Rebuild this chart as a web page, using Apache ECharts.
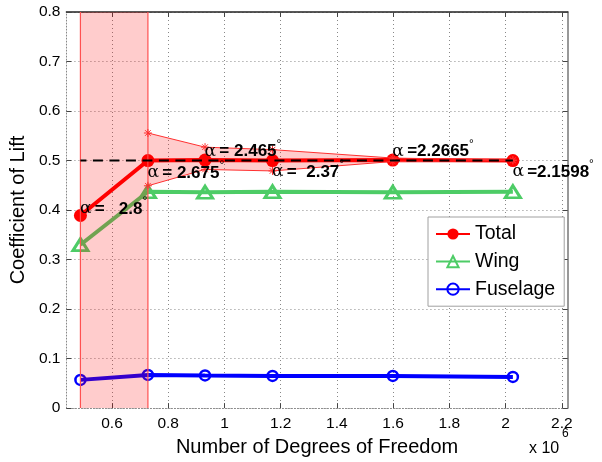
<!DOCTYPE html>
<html><head><meta charset="utf-8">
<script src="https://cdn.jsdelivr.net/npm/echarts@6/dist/echarts.min.js"></script>
<style>html,body{margin:0;padding:0;background:#fff}#c{width:602px;height:462px}</style>
</head><body><div id="c"></div>
<script>
// ---- data (x in units of 10^6 degrees of freedom) ----
const dof      = [0.4877, 0.7278, 0.931, 1.171, 1.599, 2.026];
const total    = [0.389, 0.500, 0.501, 0.500, 0.501, 0.500];
const wing     = [0.330, 0.437, 0.436, 0.437, 0.436, 0.437];
const fuselage = [0.057, 0.067, 0.066, 0.065, 0.065, 0.063];
const bandX     = [0.7278, 0.931, 1.171, 1.599, 2.026];
const bandUpper = [0.5556, 0.527, 0.522, 0.505, 0.501];
const bandLower = [0.449, 0.482, 0.479, 0.498, 0.500];
const shadeFrom = 0.4877, shadeTo = 0.7278;
const targetCL = 0.5;
const alphaText = ['=   2.8', '= 2.675', '= 2.465', '=  2.37', '=2.2665', '=2.1598'];
const xTicks = [0.6, 0.8, 1, 1.2, 1.4, 1.6, 1.8, 2, 2.2];
const xMin = 0.438, xMax = 2.221, yMin = 0, yMax = 0.8, yStep = 0.1;

// ---- layout / style ----
const labelDy = [-6, 13, -8, 12, -8, 12];
const FONT = 'Liberation Sans, Arial, Helvetica, sans-serif';
const chart = echarts.init(document.getElementById('c'), null, {renderer: 'canvas'});

function star(c, r) {
  const s = r * 0.7071, st = {stroke: '#ff3030', lineWidth: 1};
  return [
    {type: 'line', shape: {x1: c[0]-r, y1: c[1], x2: c[0]+r, y2: c[1]}, style: st},
    {type: 'line', shape: {x1: c[0], y1: c[1]-r, x2: c[0], y2: c[1]+r}, style: st},
    {type: 'line', shape: {x1: c[0]-s, y1: c[1]-s, x2: c[0]+s, y2: c[1]+s}, style: st},
    {type: 'line', shape: {x1: c[0]-s, y1: c[1]+s, x2: c[0]+s, y2: c[1]-s}, style: st}
  ];
}

const option = {
  backgroundColor: '#fff',
  animation: false,
  grid: {left: 65, right: 34.3, top: 12, bottom: 53, containLabel: false},
  legend: {
    data: ['Total', 'Wing', 'Fuselage'],
    orient: 'vertical', left: 428, top: 217,
    padding: [7, 9, 7, 7], itemGap: 7.6, itemWidth: 34, itemHeight: 14,
    backgroundColor: '#fff', borderColor: '#a0a0a0', borderWidth: 1, borderRadius: 0,
    textStyle: {fontSize: 19.5, fontFamily: FONT, color: '#000'}
  },
  xAxis: [{
    type: 'value', min: xMin, max: xMax,
    name: 'Number of Degrees of Freedom', nameLocation: 'middle', nameGap: 28,
    nameTextStyle: {fontSize: 20, fontFamily: FONT, color: '#000'},
    axisLine: {show: true, lineStyle: {color: '#888', type: [1, 2], width: 1}},
    axisTick: {show: true, inside: true, length: 5, customValues: xTicks, lineStyle: {color: '#444'}},
    axisLabel: {customValues: xTicks, fontSize: 15.5, fontFamily: FONT, color: '#000', margin: 8,
      formatter: v => String(+v.toFixed(1))},
    splitLine: {show: true, lineStyle: {color: '#888', type: [1, 3], width: 1}}
  }, {
    type: 'value', min: xMin, max: xMax, position: 'top',
    axisLine: {show: true, onZero: false, lineStyle: {color: '#222', width: 1.5}},
    axisTick: {show: true, inside: true, length: 5, customValues: xTicks, lineStyle: {color: '#444'}},
    axisLabel: {show: false, customValues: xTicks},
    splitLine: {show: false}
  }],
  yAxis: [{
    type: 'value', min: yMin, max: yMax, interval: yStep,
    name: 'Coefficient of Lift', nameLocation: 'middle', nameGap: 28,
    nameTextStyle: {fontSize: 20, fontFamily: FONT, color: '#000'},
    axisLine: {show: true, lineStyle: {color: '#888', type: [1, 2], width: 1}},
    axisTick: {show: true, inside: true, length: 5, lineStyle: {color: '#444'}},
    axisLabel: {fontSize: 15.5, fontFamily: FONT, color: '#000', margin: 6,
      formatter: v => String(+v.toFixed(1))},
    splitLine: {show: true, lineStyle: {color: '#888', type: [1, 3], width: 1}}
  }, {
    type: 'value', min: yMin, max: yMax, interval: yStep, position: 'right',
    axisLine: {show: true, onZero: false, lineStyle: {color: '#777', width: 1.5}},
    axisTick: {show: true, inside: true, length: 5, lineStyle: {color: '#444'}},
    axisLabel: {show: false}, splitLine: {show: false}
  }],
  series: [
    {
      name: 'Fuselage', type: 'line', z: 2,
      data: dof.map((x, i) => [x, fuselage[i]]),
      lineStyle: {color: '#0000ff', width: 4},
      symbol: 'circle', symbolSize: 10,
      itemStyle: {color: 'rgba(255,255,255,0)', borderColor: '#0000ff', borderWidth: 2.5}
    },
    {
      name: 'Wing', type: 'line', z: 2,
      data: dof.map((x, i) => [x, wing[i]]),
      lineStyle: {color: '#4dcc66', width: 4},
      symbol: 'triangle', symbolSize: [15, 12],
      itemStyle: {color: 'rgba(255,255,255,0)', borderColor: '#4dcc66', borderWidth: 3}
    },
    {
      name: 'Total', type: 'line', z: 2,
      data: dof.map((x, i) => [x, total[i]]),
      lineStyle: {color: '#ff0000', width: 4},
      symbol: 'circle', symbolSize: 13,
      itemStyle: {color: '#ff0000'}
    },
    {
      name: 'band', type: 'custom', z: 3, silent: true,
      data: [[shadeFrom, yMax]],
      renderItem: (params, api) => {
        const tl = api.coord([shadeFrom, yMax]), br = api.coord([shadeTo, yMin]);
        const ch = [];
        ch.push({type: 'rect', shape: {x: tl[0], y: tl[1], width: br[0]-tl[0], height: br[1]-tl[1]},
          style: {fill: 'rgba(255,0,0,0.2)'}});
        ch.push({type: 'line', shape: {x1: tl[0], y1: tl[1], x2: tl[0], y2: br[1]}, style: {stroke: '#ff5050', lineWidth: 1.2}});
        ch.push({type: 'line', shape: {x1: br[0], y1: tl[1], x2: br[0], y2: br[1]}, style: {stroke: '#ff5050', lineWidth: 1.2}});
        const up = bandX.map((x, i) => api.coord([x, bandUpper[i]]));
        const lo = bandX.map((x, i) => api.coord([x, bandLower[i]]));
        ch.push({type: 'polygon', shape: {points: up.concat(lo.slice().reverse())},
          style: {fill: 'rgba(255,0,0,0.2)'}});
        ch.push({type: 'polyline', shape: {points: up}, style: {stroke: '#ff3030', lineWidth: 1, fill: null}});
        ch.push({type: 'polyline', shape: {points: lo}, style: {stroke: '#ff3030', lineWidth: 1, fill: null}});
        up.concat(lo).forEach(p => star(p, 4).forEach(e => ch.push(e)));
        return {type: 'group', children: ch};
      }
    },
    {
      name: 'target', type: 'line', z: 4, silent: true,
      data: [[dof[0], targetCL], [dof[dof.length - 1], targetCL]],
      symbol: 'none',
      lineStyle: {color: '#000', width: 2, type: [10, 6.5], dashOffset: 4}
    },
    {
      name: 'alpha', type: 'scatter', z: 5, silent: true,
      data: dof.map((x, i) => [x, total[i]]),
      symbol: 'circle', symbolSize: 1, itemStyle: {color: 'rgba(0,0,0,0)', opacity: 1},
      label: {
        show: true, opacity: 1,
        position: [0, 0],
        align: 'left', verticalAlign: 'middle',
        formatter: p => '{a|α} {b|' + alphaText[p.dataIndex] + '}{d|°}',
        rich: {
          a: {fontFamily: 'DejaVu Serif, Liberation Serif, serif', fontSize: 17, color: '#000', lineHeight: 26, verticalAlign: 'middle'},
          b: {fontFamily: FONT, fontWeight: 'bold', fontSize: 17, color: '#000', lineHeight: 26, verticalAlign: 'middle'},
          d: {fontFamily: FONT, fontSize: 12, color: '#000', lineHeight: 12, verticalAlign: 'top'}
        }
      },
      labelLayout: p => ({dy: labelDy[p.dataIndex]})
    }
  ],
  graphic: [
    {type: 'text', left: 529, top: 441, style: {text: 'x 10', font: '16px ' + FONT, fill: '#000'}},
    {type: 'text', left: 562, top: 428, style: {text: '6', font: '12px ' + FONT, fill: '#000'}}
  ]
};
chart.setOption(option);
</script>
</body></html>
